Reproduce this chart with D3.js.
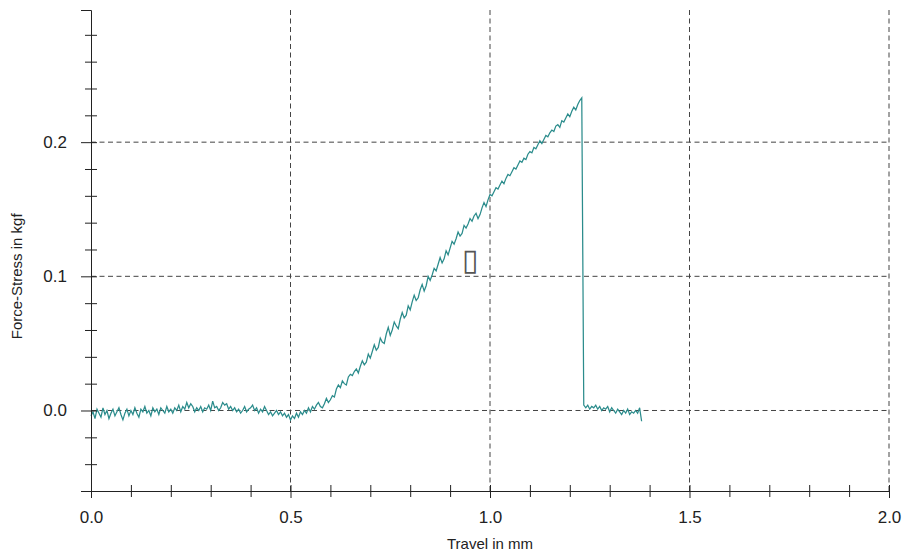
<!DOCTYPE html>
<html>
<head>
<meta charset="utf-8">
<script src="https://cdn.jsdelivr.net/npm/d3@7"></script>
<style>
  body { margin: 0; background: #fff; }
  text { font-family: "Liberation Sans", Arial, sans-serif; fill: #222; }
</style>
</head>
<body>
<div id="chart"></div>
<script>
"use strict";

// sample interval of the recorded signal (mm)
const sampleStep = 0.005;

// force readings in kgf, one per sample, starting at travel 0.0 mm
const force = [
  // 0.000 - 0.100
  -0.004,-0.001,-0.006,0.001,-0.002,-0.005,0.002,-0.003,0.000,-0.006,-0.002,0.001,-0.004,-0.001,0.002,-0.003,-0.007,-0.002,0.001,-0.004,0.000,
  // 0.105 - 0.200
  -0.003,0.002,-0.002,-0.005,0.001,-0.001,0.003,-0.002,0.000,-0.004,0.002,-0.001,0.001,-0.003,0.002,0.000,-0.002,0.003,-0.001,0.001,
  // 0.205 - 0.300
  -0.002,0.002,0.000,0.004,-0.001,0.003,0.001,0.006,0.002,0.005,0.003,-0.001,0.002,0.000,0.003,-0.001,0.002,0.001,0.004,0.000,
  // 0.305 - 0.400
  0.007,0.002,0.003,0.000,0.002,0.006,0.004,0.005,0.001,0.003,0.000,0.002,-0.001,0.001,-0.002,0.000,0.003,-0.001,0.001,0.002,
  // 0.405 - 0.500
  0.004,0.000,0.002,-0.002,0.001,-0.001,0.003,0.000,-0.003,-0.001,-0.004,-0.002,0.000,-0.003,-0.001,-0.004,-0.002,-0.005,-0.003,-0.007,-0.004,
  // 0.505 - 0.550
  -0.006,-0.002,-0.005,-0.001,-0.003,0.000,-0.002,0.002,-0.001,0.003,
  // 0.555 - 0.600
  0.001,0.004,0.006,0.003,0.002,0.005,0.009,0.006,0.008,0.011,
  // 0.605 - 0.650
  0.010,0.016,0.019,0.017,0.022,0.020,0.019,0.025,0.027,0.026,
  // 0.655 - 0.700
  0.029,0.031,0.028,0.033,0.037,0.034,0.036,0.042,0.039,0.044,
  // 0.705 - 0.750
  0.049,0.045,0.047,0.054,0.051,0.050,0.057,0.062,0.056,0.060,
  // 0.755 - 0.800
  0.066,0.063,0.061,0.068,0.073,0.069,0.071,0.078,0.075,0.081,
  // 0.805 - 0.850
  0.086,0.082,0.084,0.090,0.094,0.089,0.093,0.100,0.097,0.101,
  // 0.855 - 0.900
  0.106,0.104,0.109,0.114,0.110,0.113,0.119,0.116,0.121,0.126,
  // 0.905 - 0.950
  0.124,0.128,0.133,0.130,0.132,0.138,0.136,0.139,0.143,0.141,
  // 0.955 - 1.000
  0.145,0.147,0.143,0.146,0.151,0.155,0.152,0.157,0.161,0.160,
  // 1.005 - 1.050
  0.163,0.166,0.165,0.168,0.171,0.169,0.173,0.176,0.175,0.178,
  // 1.055 - 1.100
  0.181,0.180,0.183,0.186,0.185,0.188,0.187,0.191,0.193,0.192,
  // 1.105 - 1.150
  0.196,0.195,0.198,0.201,0.199,0.202,0.205,0.204,0.207,0.209,
  // 1.155 - 1.200
  0.208,0.212,0.213,0.211,0.216,0.215,0.218,0.221,0.219,0.223,
  // 1.205 - 1.225
  0.226,0.224,0.228,0.231,0.233,
  // 1.230 - 1.375 (after break)
  0.004,0.002,0.004,0.001,0.003,0.002,0.004,0.001,0.003,0.000,0.002,0.001,0.003,-0.001,0.002,
  0.000,-0.002,0.001,-0.001,-0.003,0.000,-0.002,0.001,-0.003,-0.001,-0.002,0.000,-0.002,0.002,-0.008
];

const xMajor = [0.0, 0.5, 1.0, 1.5, 2.0];
const xMinor = [0.1, 0.2, 0.3, 0.4, 0.6, 0.7, 0.8, 0.9, 1.1, 1.2, 1.3, 1.4, 1.6, 1.7, 1.8, 1.9];
const yMajor = [0.0, 0.1, 0.2];
const yMinor = [-0.04, -0.02, 0.02, 0.04, 0.06, 0.08, 0.12, 0.14, 0.16, 0.18, 0.22, 0.24, 0.26, 0.28];
const xGrid = [0.5, 1.0, 1.5, 2.0];
const yGrid = [0.0, 0.1, 0.2];

const xTitle = "Travel in mm";
const yTitle = "Force-Stress in kgf";
const markerText = "\u25AF";

const W = 907, H = 554;
const margin = {top: 10, right: 18, bottom: 63, left: 91};
const width = W - margin.left - margin.right,
      height = H - margin.top - margin.bottom;

const svg = d3.select("#chart")
  .append("svg")
  .attr("width", W)
  .attr("height", H)
  .append("g")
  .attr("transform", "translate(" + margin.left + "," + margin.top + ")");

const x = d3.scaleLinear().domain([0, 2.0]).range([0, 798]);
const y = d3.scaleLinear().domain([-0.06, 0.2985]).range([height, 0]);

const data = force.map((f, i) => ({travel: i * sampleStep, force: f}));

// grid
const gridStyle = g => g
  .attr("stroke", "#444")
  .attr("stroke-width", 1)
  .attr("stroke-dasharray", "5,3.5")
  .attr("fill", "none");

svg.append("g").call(gridStyle)
  .selectAll("line")
  .data(xGrid)
  .join("line")
  .attr("x1", d => x(d)).attr("x2", d => x(d))
  .attr("y1", 0).attr("y2", height);

svg.append("g").call(gridStyle)
  .selectAll("line")
  .data(yGrid)
  .join("line")
  .attr("x1", 0).attr("x2", x(2.0))
  .attr("y1", d => y(d)).attr("y2", d => y(d));

// the curve
svg.append("path")
  .datum(data)
  .attr("fill", "none")
  .attr("stroke", "#2b8c8c")
  .attr("stroke-width", 1.25)
  .attr("d", d3.line()
    .x(d => x(d.travel))
    .y(d => y(d.force)));

// X axis
const xAxis = svg.append("g")
  .attr("transform", "translate(0," + height + ")")
  .call(d3.axisBottom(x)
    .tickValues(xMajor)
    .tickFormat(d3.format(".1f"))
    .tickSizeOuter(0)
    .tickSize(7)
    .tickPadding(13));
xAxis.selectAll(".tick line").attr("y1", -6);

const xMinorAxis = svg.append("g")
  .attr("transform", "translate(0," + height + ")")
  .call(d3.axisBottom(x)
    .tickValues(xMinor)
    .tickFormat("")
    .tickSizeOuter(0)
    .tickSize(6));
xMinorAxis.selectAll(".tick line").attr("y1", -6);
xMinorAxis.select(".domain").remove();

// Y axis
const yAxis = svg.append("g")
  .call(d3.axisLeft(y)
    .tickValues(yMajor)
    .tickFormat(d3.format(".1f"))
    .tickSizeOuter(0)
    .tickSize(10)
    .tickPadding(14));
yAxis.selectAll(".tick line").attr("x1", 6);

const yMinorAxis = svg.append("g")
  .call(d3.axisLeft(y)
    .tickValues(yMinor)
    .tickFormat("")
    .tickSizeOuter(0)
    .tickSize(6));
yMinorAxis.selectAll(".tick line").attr("x1", 6);
yMinorAxis.select(".domain").remove();

svg.selectAll(".domain, .tick line").attr("stroke", "#222");
svg.selectAll(".tick text")
  .attr("font-size", 17)
  .attr("font-family", "Liberation Sans, Arial, sans-serif")
  .attr("fill", "#222");

// axis titles
svg.append("text")
  .attr("text-anchor", "middle")
  .attr("x", x(1.0))
  .attr("y", height + 58)
  .attr("font-size", 15)
  .text(xTitle);

svg.append("text")
  .attr("text-anchor", "middle")
  .attr("transform", "rotate(-90)")
  .attr("x", -y(0.1))
  .attr("y", -69)
  .attr("font-size", 15)
  .text(yTitle);

// stray marker glyph
svg.append("text")
  .attr("text-anchor", "middle")
  .attr("x", x(0.951))
  .attr("y", y(0.105))
  .attr("font-family", "DejaVu Sans")
  .attr("font-size", 30)
  .style("fill", "#555")
  .text(markerText);
</script>
</body>
</html>
